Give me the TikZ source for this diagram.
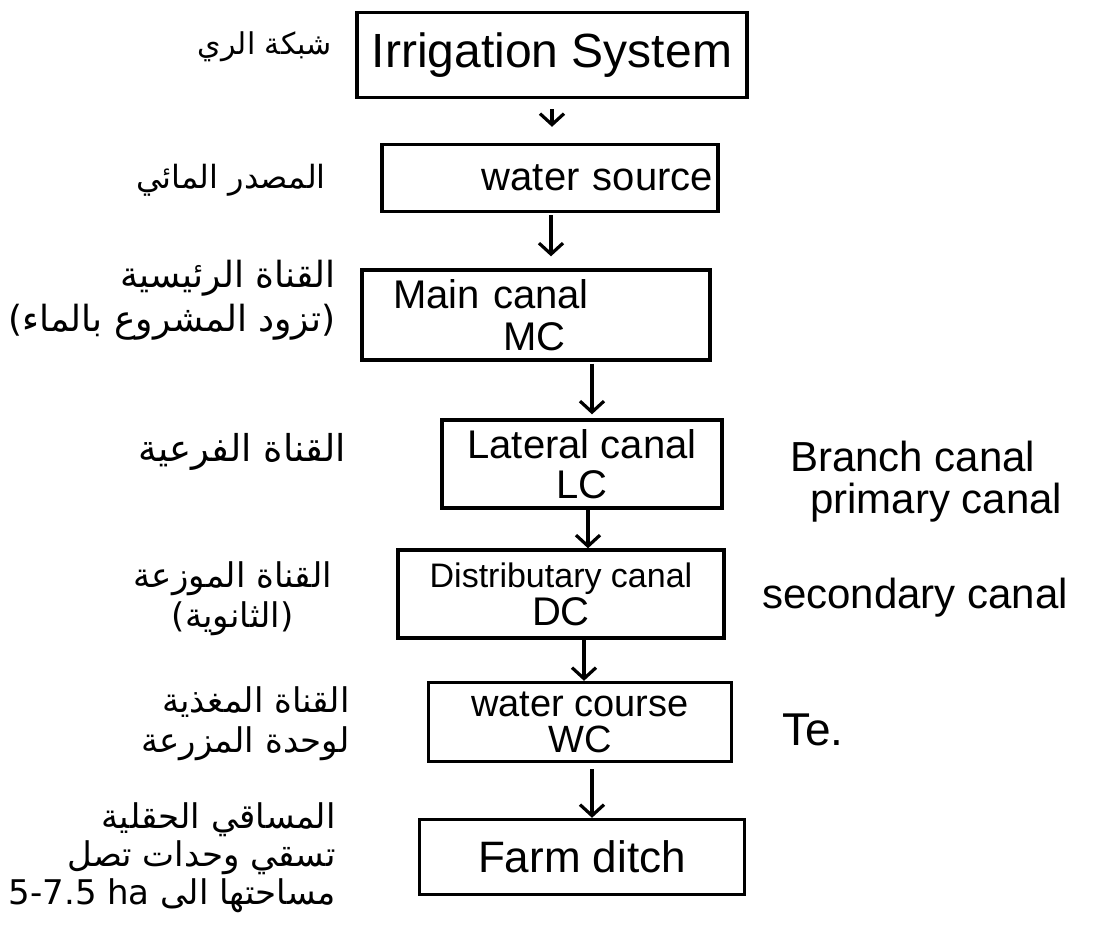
\documentclass[tikz,border=0pt]{standalone}
\usepackage{fontspec}
\setmainfont{Liberation Sans}
\newfontfamily\arabicfont[Script=Arabic]{DejaVu Sans}
\TeXXeTstate=1
\usetikzlibrary{arrows.meta}
\tikzset{
  stagebox/.style={draw, line width=3.4pt, inner sep=2pt, align=center,
    font=\fontsize{40}{42}\selectfont},
  flow/.style={line width=3.2pt, -{Straight Barb[length=11pt,width=24pt,line width=3.2pt]}},
  arlabel/.style={font=\arabicfont\fontsize{34}{40}\selectfont, align=right, inner sep=0pt, anchor=east},
  enlabel/.style={font=\fontsize{42}{46}\selectfont, align=left, inner sep=0pt, anchor=west}
}
\begin{document}
\begin{tikzpicture}[x=1pt,y=-1pt]
\useasboundingbox[fill=white] (0,0) rectangle (1104,938);

% boxes
\node[stagebox, minimum width=390pt, minimum height=85pt, font=\fontsize{48}{50}\selectfont] (irr) at (552,55) {Irrigation System};
\node[stagebox, minimum width=336pt, minimum height=67pt, text width=326pt, align=right] (src) at (550,178) {water source};
\node[stagebox, minimum width=348pt, minimum height=90pt, text width=330pt, align=left] (mc) at (536,315) {\hspace*{22pt}Main canal\\\hspace*{3.3em}MC};
\node[stagebox, minimum width=280pt, minimum height=88pt, font=\fontsize{40}{40}\selectfont] (lc) at (582,464) {Lateral canal\\LC};
\node[stagebox, minimum width=326pt, minimum height=88pt, font=\fontsize{34}{38}\selectfont] (dc) at (561,594) {Distributary canal\\\fontsize{40}{38}\selectfont DC};
\node[stagebox, minimum width=303pt, minimum height=79pt, font=\fontsize{38}{36}\selectfont] (wc) at (580,722) {water course\\WC};
\node[stagebox, minimum width=325pt, minimum height=75pt, font=\fontsize{44}{46}\selectfont] (fd) at (582,857) {Farm ditch};

% arrows
\draw[flow, shorten <=10pt, shorten >=16pt] (irr.south) -- (src.north -| irr.south);
\draw[flow, shorten <=2pt, shorten >=12pt] ([xshift=1pt]src.south) -- ([xshift=15pt]mc.north);
\draw[flow, shorten <=2pt, shorten >=4pt] ([xshift=56pt]mc.south) -- ([xshift=10pt]lc.north);
\draw[flow] ([xshift=6pt]lc.south) -- ([xshift=27pt]dc.north);
\draw[flow] ([xshift=23pt]dc.south) -- ([xshift=4pt]wc.north);
\draw[flow, shorten <=6pt] ([xshift=12pt]wc.south) -- ([xshift=10pt]fd.north);

% Arabic labels
\node[arlabel, font=\arabicfont\fontsize{30}{40}\selectfont] (a1) at (332,47) {\beginR شبكة الري\endR};
\node[arlabel, font=\arabicfont\fontsize{32}{40}\selectfont] (a2) at (326,180) {\beginR المصدر المائي\endR};
\node[arlabel, font=\arabicfont\fontsize{36}{44}\selectfont] (a3) at (336,300) {\beginR القناة الرئيسية\endR\\\beginR (تزود المشروع بالماء)\endR};
\node[arlabel, font=\arabicfont\fontsize{37}{40}\selectfont] (a4) at (346,452) {\beginR القناة الفرعية\endR};
\node[arlabel, align=center] (a5) at (332,599) {\beginR القناة الموزعة\endR\\\beginR (الثانوية)\endR};
\node[arlabel] (a6) at (350,724) {\beginR القناة المغذية\endR\\\beginR لوحدة المزرعة\endR};
\node[arlabel, font=\arabicfont\fontsize{34}{38}\selectfont] (a7) at (336,858) {\beginR المساقي الحقلية\endR\\\beginR تسقي وحدات تصل\endR\\\beginR مساحتها الى \beginL 5-7.5 ha\endL\endR};

% English side labels
\node[enlabel, font=\fontsize{42}{42}\selectfont] (e1) at (790,482) {Branch canal\\\hspace*{20pt}primary canal};
\node[enlabel] (e3) at (762,598) {secondary canal};
\node[enlabel, font=\fontsize{46}{48}\selectfont] (e4) at (782,730) {Te.};
\end{tikzpicture}
\end{document}
